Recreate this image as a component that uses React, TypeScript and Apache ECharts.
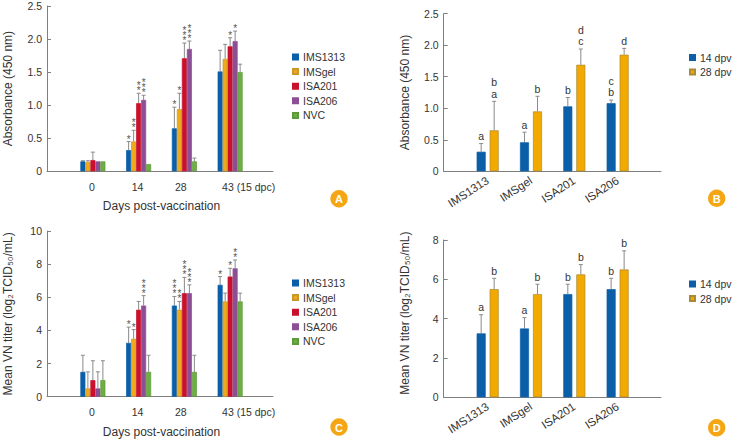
import React, { useEffect, useRef } from "react";
import * as echarts from "echarts";

const days = ["0", "14", "28", "43 (15 dpc)"];
const adjuvants = ["IMS1313", "IMSgel", "ISA201", "ISA206"];
const groupNames = ["IMS1313", "IMSgel", "ISA201", "ISA206", "NVC"];
const dpvNames = ["14 dpv", "28 dpv"];

// Panel A: one row per group, one value per day
const absMeans = [
  [0.15, 0.32, 0.65, 1.51],
  [0.14, 0.45, 0.94, 1.7],
  [0.17, 1.03, 1.71, 1.89],
  [0.15, 1.08, 1.85, 1.97],
  [0.15, 0.11, 0.15, 1.5],
];
const absTops = [
  [0.16, 0.45, 0.97, 1.83],
  [0.16, 0.62, 1.18, 1.92],
  [0.29, 1.18, 1.94, 2.02],
  [0.15, 1.15, 1.97, 2.12],
  [0.15, 0.11, 0.2, 1.62],
];
const absStars = [
  [0, 1, 1, 0],
  [0, 2, 1, 0],
  [0, 2, 3, 1],
  [0, 3, 3, 1],
  [0, 0, 0, 0],
];

// Panel C
const vnMeans = [
  [1.5, 3.25, 5.5, 6.75],
  [0.5, 3.5, 5.25, 5.75],
  [1, 5.25, 6.25, 7.25],
  [0.5, 5.5, 6.25, 7.75],
  [1, 1.5, 1.5, 5.75],
];
const vnTops = [
  [2.5, 4.2, 6.05, 7.25],
  [1.5, 4.05, 5.75, 6.25],
  [2.17, 5.75, 7.2, 7.75],
  [1.5, 6.1, 6.75, 8.25],
  [2.17, 2.5, 2.5, 6.25],
];
const vnStars = [
  [0, 1, 3, 1],
  [0, 1, 2, 0],
  [0, 0, 3, 1],
  [0, 3, 3, 2],
  [0, 0, 0, 0],
];

// Panel B
const absDpvMeans = [
  [0.31, 0.46, 1.03, 1.08],
  [0.65, 0.95, 1.69, 1.85],
];
const absDpvTops = [
  [0.44, 0.62, 1.17, 1.13],
  [1.11, 1.19, 1.94, 1.95],
];
const absDpvLetters = [
  ["a", "a", "b", "c\nb"],
  ["b\na", "b", "d\nc", "d"],
];

// Panel D
const vnDpvMeans = [
  [3.25, 3.5, 5.25, 5.5],
  [5.5, 5.25, 6.25, 6.5],
];
const vnDpvTops = [
  [4.2, 4.05, 5.75, 6.05],
  [6.05, 5.75, 6.75, 7.45],
];
const vnDpvLetters = [
  ["a", "a", "b", "b"],
  ["b", "b", "b", "b"],
];

const groupColors = ["#0a5fa8", "#eea91c", "#c9112d", "#8c4f95", "#6fae45"];
const groupBorders = ["#0a5fa8", "#c8982c", "#c9112d", "#8c4f95", "#5c9a3a"];
const dpvColors = ["#0a5fa8", "#f2a900"];
const dpvBorders = ["#0a5fa8", "#ab8a34"];

const FONT = "Liberation Sans, Arial, sans-serif";
const TEXT = "#333333";
const AXIS = "#7f7f7f";
const ABS_TITLE = "Absorbance (450 nm)";
const VN_TITLE = "Mean VN titer (log₂TCID₅₀/mL)";
const X_TITLE = "Days post-vaccination";

type Panel = {
  frame: { left: number; right: number; top: number; bottom: number };
  plot: { left: number; right: number };
  max: number;
  interval: number;
  decimals: number;
  title: string;
  titleGap: number;
  titlePad: number[];
  names: string[];
  colors: string[];
  borders: string[];
  means: number[][];
  tops: number[][];
  marks: string[][];
  starred: boolean;
  isDays: boolean;
  barWidth: number;
  barStep: number;
  legend: { left: number; top: number };
  badge: { x: number; y: number; letter: string };
};

const stars = (rows: number[][]) =>
  rows.map((r) => r.map((n) => Array.from({ length: n }, () => "*").join("\n")));

const panels: Panel[] = [
  {
    frame: { left: 47, right: 273, top: 6, bottom: 171.3 },
    plot: { left: 70, right: 253 },
    max: 2.5, interval: 0.5, decimals: 1,
    title: ABS_TITLE, titleGap: 33, titlePad: [0, 0, 0, 0],
    names: groupNames, colors: groupColors, borders: groupBorders,
    means: absMeans, tops: absTops, marks: stars(absStars), starred: true,
    isDays: true, barWidth: 5, barStep: 5,
    legend: { left: 292, top: 51 },
    badge: { x: 339, y: 198.7, letter: "A" },
  },
  {
    frame: { left: 443.7, right: 661, top: 13.7, bottom: 171.3 },
    plot: { left: 466, right: 639.3 },
    max: 2.5, interval: 0.5, decimals: 1,
    title: ABS_TITLE, titleGap: 33, titlePad: [0, 0, 0, 0],
    names: dpvNames, colors: dpvColors, borders: dpvBorders,
    means: absDpvMeans, tops: absDpvTops, marks: absDpvLetters, starred: false,
    isDays: false, barWidth: 9, barStep: 13,
    legend: { left: 689, top: 51.5 },
    badge: { x: 716.7, y: 198.3, letter: "B" },
  },
  {
    frame: { left: 47, right: 273, top: 231, bottom: 396.7 },
    plot: { left: 70, right: 253 },
    max: 10, interval: 2, decimals: 0,
    title: VN_TITLE, titleGap: 33, titlePad: [0, 0, 0, 0],
    names: groupNames, colors: groupColors, borders: groupBorders,
    means: vnMeans, tops: vnTops, marks: stars(vnStars), starred: true,
    isDays: true, barWidth: 5, barStep: 5,
    legend: { left: 292, top: 277 },
    badge: { x: 339, y: 427, letter: "C" },
  },
  {
    frame: { left: 443.7, right: 661, top: 240, bottom: 397.3 },
    plot: { left: 466, right: 639.3 },
    max: 8, interval: 2, decimals: 0,
    title: VN_TITLE, titleGap: 33, titlePad: [0, 0, 0, 11],
    names: dpvNames, colors: dpvColors, borders: dpvBorders,
    means: vnDpvMeans, tops: vnDpvTops, marks: vnDpvLetters, starred: false,
    isDays: false, barWidth: 9, barStep: 13,
    legend: { left: 689, top: 278 },
    badge: { x: 716.7, y: 427.7, letter: "D" },
  },
];

const dayLabel = (v: string) => {
  if (v === "0" || v === "14") return "{a|" + v + "}";
  if (v === "28") return "{b|28}";
  return "{c|" + v + "}";
};

function buildOption() {
  const grid: any[] = [];
  const xAxis: any[] = [];
  const yAxis: any[] = [];
  const series: any[] = [];
  const legend: any[] = [];
  const graphic: any[] = [];

  panels.forEach((p, pi) => {
    const frameIdx = pi * 2;
    const plotIdx = pi * 2 + 1;
    const h = { top: p.frame.top, height: p.frame.bottom - p.frame.top };
    grid.push({ left: p.frame.left, width: p.frame.right - p.frame.left, ...h });
    grid.push({ left: p.plot.left, width: p.plot.right - p.plot.left, ...h });

    xAxis.push({
      type: "value", gridIndex: frameIdx, min: 0, max: 1,
      axisLine: { show: true, onZero: false, lineStyle: { color: AXIS, width: 1 } },
      axisTick: { show: false }, axisLabel: { show: false }, splitLine: { show: false },
    });
    yAxis.push({
      type: "value", gridIndex: frameIdx, min: 0, max: p.max, interval: p.interval,
      name: p.title, nameLocation: "middle", nameGap: p.titleGap,
      nameTextStyle: { fontFamily: FONT, fontSize: 12, color: TEXT, padding: p.titlePad },
      axisLine: { show: true, lineStyle: { color: AXIS, width: 1 } },
      axisTick: { show: true, inside: true, length: 4, lineStyle: { color: AXIS } },
      splitLine: { show: false },
      axisLabel: {
        fontFamily: FONT, fontSize: 10.5, color: TEXT, margin: 5,
        formatter: (v: number) => (v === 0 ? "0" : v.toFixed(p.decimals)),
      },
    });

    xAxis.push({
      type: "category", gridIndex: plotIdx, data: p.isDays ? days : adjuvants,
      axisLine: { show: false }, axisTick: { show: false }, splitLine: { show: false },
      name: p.isDays ? X_TITLE : "", nameLocation: "middle", nameGap: 29,
      nameTextStyle: { fontFamily: FONT, fontSize: 12, color: TEXT },
      axisLabel: p.isDays
        ? {
            interval: 0, margin: 10, fontFamily: FONT, fontSize: 10.5, color: TEXT,
            formatter: dayLabel,
            rich: {
              a: { fontFamily: FONT, fontSize: 10.5, color: TEXT, padding: [0, 2, 0, 0] },
              b: { fontFamily: FONT, fontSize: 10.5, color: TEXT, padding: [0, 7, 0, 0] },
              c: { fontFamily: FONT, fontSize: 10.5, color: TEXT, padding: [0, 0, 0, 37] },
            },
          }
        : {
            interval: 0, margin: 8, rotate: 33, fontFamily: FONT, fontSize: 11.5, color: TEXT,
          },
    });
    yAxis.push({
      type: "value", gridIndex: plotIdx, min: 0, max: p.max, interval: p.interval, show: false,
    });

    p.names.forEach((name, si) => {
      series.push({
        type: "bar", name, xAxisIndex: plotIdx, yAxisIndex: plotIdx,
        data: p.means[si],
        barWidth: p.barWidth,
        barGap: `${((p.barStep - p.barWidth) / p.barWidth) * 100}%`,
        itemStyle: { color: p.colors[si], borderColor: p.borders[si], borderWidth: 0.7 },
        silent: true,
        z: 3,
      });
      const offset = (si - (p.names.length - 1) / 2) * p.barStep;
      series.push({
        type: "custom", xAxisIndex: plotIdx, yAxisIndex: plotIdx, silent: true, z: 2,
        data: p.means[si].map((m, ci) => [ci, m, p.tops[si][ci]]),
        encode: { x: 0, y: 2 },
        renderItem: (params: any, api: any) => {
          const ci = api.value(0);
          const base = api.coord([ci, api.value(1)]);
          const top = api.coord([ci, api.value(2)]);
          const x = base[0] + offset;
          const children: any[] = [];
          const line = { stroke: "#8a8a8a", lineWidth: 1 };
          if (top[1] < base[1] - 0.5) {
            children.push({ type: "line", shape: { x1: x, y1: base[1], x2: x, y2: top[1] }, style: line });
            children.push({ type: "line", shape: { x1: x - 2, y1: top[1], x2: x + 2, y2: top[1] }, style: line });
          }
          const mark = p.marks[si][ci];
          if (mark) {
            children.push({
              type: "text",
              style: {
                x,
                y: top[1] + (p.starred ? 0 : -2),
                text: mark,
                fontFamily: FONT,
                fontSize: p.starred ? 10 : 10.5,
                lineHeight: p.starred ? 5 : 11.3,
                fill: p.starred ? "#555555" : TEXT,
                align: "center",
                verticalAlign: "bottom",
              },
            });
          }
          return { type: "group", children };
        },
      });
    });

    legend.push({
      orient: "vertical", left: p.legend.left, top: p.legend.top, padding: 0,
      data: p.names, icon: "rect", itemWidth: 5, itemHeight: 5, itemGap: 2.6,
      selectedMode: false,
      textStyle: { fontFamily: FONT, fontSize: 10.5, color: TEXT, lineHeight: 12 },
    });

    graphic.push({
      type: "circle", shape: { cx: p.badge.x, cy: p.badge.y, r: 8.7 }, style: { fill: "#f5a614" }, silent: true,
    });
    graphic.push({
      type: "text", x: p.badge.x, y: p.badge.y + 0.5, silent: true,
      style: {
        text: p.badge.letter, fill: "#fff", font: `bold 11px ${FONT}`,
        align: "center", verticalAlign: "middle",
      },
    });
  });

  return { animation: false, backgroundColor: "#fff", grid, xAxis, yAxis, series, legend, graphic };
}

export default function App() {
  const ref = useRef<HTMLDivElement>(null);
  useEffect(() => {
    document.body.style.margin = "0";
    const chart = echarts.init(ref.current!, undefined, { renderer: "svg" });
    chart.setOption(buildOption() as any);
    return () => chart.dispose();
  }, []);
  return <div ref={ref} style={{ width: 732, height: 439 }} />;
}
